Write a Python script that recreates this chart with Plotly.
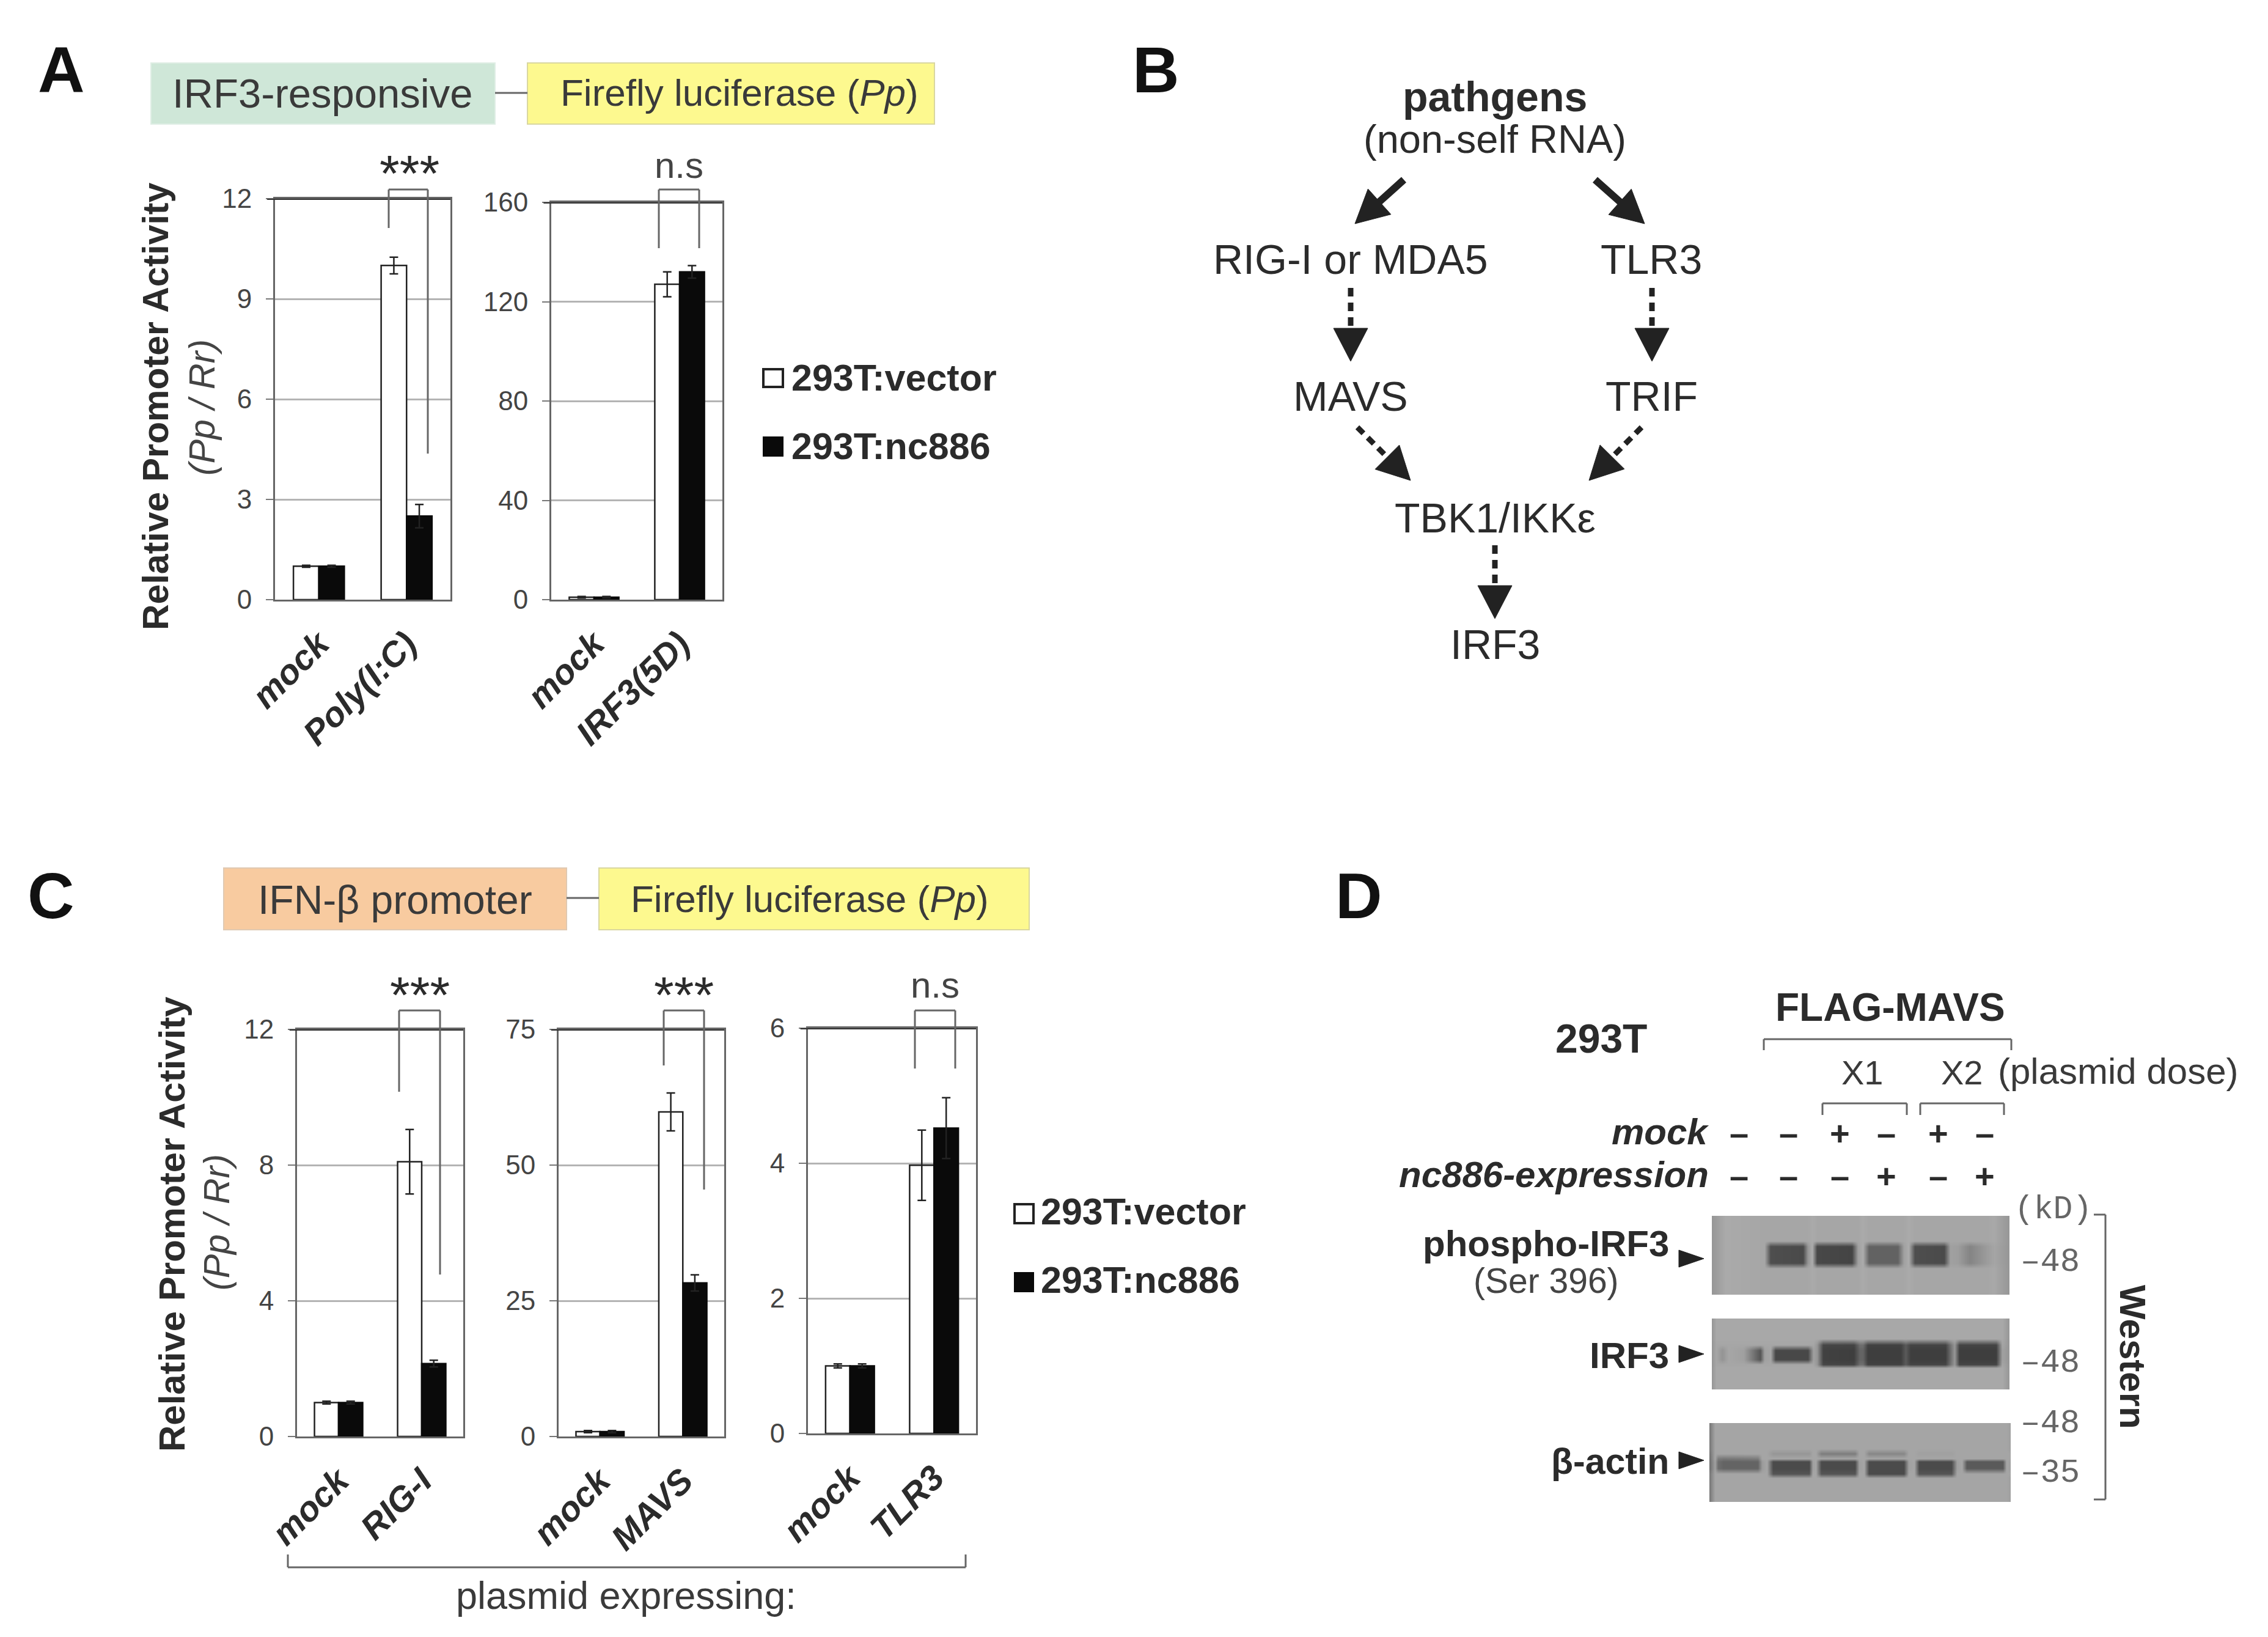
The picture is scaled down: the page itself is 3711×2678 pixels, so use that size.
import plotly.graph_objects as go

W, H = 3711, 2678
FONT = "Liberation Sans"
INK = "#2b2b2b"

# ---------------- data ----------------
cats_A1 = ["mock", "Poly(I:C)"]
vector_A1 = [1.0, 10.0]
vector_err_A1 = [0.03, 0.25]
nc886_A1 = [1.0, 2.5]
nc886_err_A1 = [0.03, 0.35]

cats_A2 = ["mock", "IRF3(5D)"]
vector_A2 = [1.0, 127]
vector_err_A2 = [0.3, 5]
nc886_A2 = [1.0, 132]
nc886_err_A2 = [0.3, 2.5]

cats_C1 = ["mock", "RIG-I"]
vector_C1 = [1.0, 8.1]
vector_err_C1 = [0.04, 0.95]
nc886_C1 = [1.0, 2.15]
nc886_err_C1 = [0.04, 0.1]

cats_C2 = ["mock", "MAVS"]
vector_C2 = [0.9, 59.8]
vector_err_C2 = [0.2, 3.5]
nc886_C2 = [0.9, 28.3]
nc886_err_C2 = [0.2, 1.5]

cats_C3 = ["mock", "TLR3"]
vector_C3 = [1.0, 3.97]
vector_err_C3 = [0.03, 0.52]
nc886_C3 = [1.0, 4.52]
nc886_err_C3 = [0.03, 0.45]

series_names = ["293T:vector", "293T:nc886"]

# Western blot grey levels, read along each membrane
blot1_x = [33,100,290,320,480,505,525,550,720,750,775,805,945,975,1000,1030,1175,1205,1240,1300,1380,1420,1495]
blot1_y = [28,152,178,258,285,415]
blot1_bg = [150,170,166,166,166,166,170,166,166,166,170,166,166,166,170,166,166,166,166,166,166,168,150]
blot1_core = [150,170,166,78,74,150,172,72,68,160,172,98,98,160,172,78,74,160,158,132,155,165,150]

blot2_x = [33,55,85,115,190,270,290,320,345,505,530,550,580,730,760,775,800,960,985,1010,1180,1210,1225,1250,1430,1460,1495]
blot2_y = [20,120,150,178,222,245,265,370]
blot2_bg = [150,168,168,168,168,168,168,168,168,168,168,168,168,168,168,168,168,168,168,168,168,168,168,168,168,168,150]
blot2_edge = [150,166,166,166,166,166,166,166,166,166,166,150,70,68,110,110,66,66,90,68,68,125,150,68,68,165,150]
blot2_core = [150,166,148,166,160,85,160,165,72,72,160,150,65,62,100,100,62,62,90,62,62,120,150,62,62,160,150]

blot3_x = [22,50,65,90,260,280,305,335,510,530,545,570,735,755,780,805,975,1000,1025,1050,1210,1235,1260,1285,1460,1480,1500]
blot3_y = [25,150,175,198,212,245,272,295,410]
blot3_bg = [120,165,165,165,165,165,165,165,165,165,165,165,165,165,165,165,165,165,165,165,165,165,165,165,165,165,160]
blot3_upper = [115,165,165,165,165,165,165,150,150,165,165,125,125,165,165,135,135,165,165,160,160,165,165,165,165,165,165]
blot3_mid = [112,165,125,120,125,165,165,165,165,165,165,165,165,165,165,165,165,165,165,165,165,165,165,165,165,165,165]
blot3_core = [110,160,110,100,100,155,165,75,75,160,165,75,75,160,165,75,75,160,165,75,75,160,165,90,90,165,160]
blot3_low = [120,165,165,165,165,165,165,85,85,165,165,85,85,165,165,75,75,165,165,85,85,165,165,165,165,165,165]

mock_signs = ["–", "–", "+", "–", "+", "–"]
nc886_signs = ["–", "–", "–", "+", "–", "+"]
kd_labels = ["–48", "–48", "–48", "–35"]


def fx(x):
    return x / W


def fy(y):
    return 1 - y / H


fig = go.Figure()
shapes, annos = [], []
layout_axes = {}
ax_i = [0]


def next_axes():
    ax_i[0] += 1
    i = ax_i[0]
    s = "" if i == 1 else str(i)
    return "x" + s, "y" + s, "xaxis" + s, "yaxis" + s


def T(x, y, text, size, anchor="center", color=INK, angle=0, family=FONT):
    annos.append(dict(xref="paper", yref="paper", x=fx(x), y=fy(y), text=text, showarrow=False,
                      xanchor=anchor, yanchor="middle", textangle=angle,
                      font=dict(family=family, size=size, color=color)))


def L(x0, y0, x1, y1, color="#555555", width=3, dash=None):
    shapes.append(dict(type="line", xref="paper", yref="paper", x0=fx(x0), y0=fy(y0), x1=fx(x1), y1=fy(y1),
                       line=dict(color=color, width=width, dash=dash)))


def R(x0, y0, x1, y1, fill, line="rgba(0,0,0,0)", width=2):
    shapes.append(dict(type="rect", xref="paper", yref="paper", x0=fx(x0), y0=fy(y0), x1=fx(x1), y1=fy(y1),
                       fillcolor=fill, line=dict(color=line, width=width)))


def TRI(pts, fill="#222222"):
    p = " L ".join(f"{fx(a):.5f} {fy(b):.5f}" for a, b in pts)
    shapes.append(dict(type="path", xref="paper", yref="paper", path=f"M {p} Z", fillcolor=fill,
                       line=dict(color=fill, width=1)))


def ARROW(x0, y0, x1, y1, dash=None, head=56, hl=54, width=9):
    dx, dy = x1 - x0, y1 - y0
    n = (dx * dx + dy * dy) ** 0.5
    ux, uy = dx / n, dy / n
    bx, by = x1 - ux * hl, y1 - uy * hl
    L(x0, y0, bx + ux * 3, by + uy * 3, "#222222", width, dash)
    TRI([(x1, y1), (bx - uy * head / 2, by + ux * head / 2), (bx + uy * head / 2, by - ux * head / 2)])


def BRACKET(x0, x1, top, b0, b1, color="#666666"):
    L(x0, top, x1, top, color, 3)
    L(x0, top, x0, b0, color, 3)
    L(x1, top, x1, b1, color, 3)


def bar_panel(cats, v, ve, n, ne, x0, x1, y0, y1, ymax, dtick):
    xa, ya, xk, yk = next_axes()
    fig.add_trace(go.Bar(x=cats, y=v, name=series_names[0], xaxis=xa, yaxis=ya, showlegend=False,
                         marker=dict(color="white", line=dict(color="#222222", width=2.5)),
                         error_y=dict(type="data", array=ve, color="#222222", thickness=2.5, width=7)))
    fig.add_trace(go.Bar(x=cats, y=n, name=series_names[1], xaxis=xa, yaxis=ya, showlegend=False,
                         marker=dict(color="#0a0a0a", line=dict(color="#0a0a0a", width=2.5)),
                         error_y=dict(type="data", array=ne, color="#222222", thickness=2.5, width=7)))
    layout_axes[xk] = dict(domain=[fx(x0), fx(x1)], anchor=ya, type="category", automargin=False,
                           range=[-0.5, 1.5], tickangle=-45, showline=True, mirror=True,
                           linecolor="#666666", linewidth=3, showgrid=False,
                           ticks="outside", ticklen=13, tickcolor="rgba(0,0,0,0)",
                           tickfont=dict(family=FONT, size=57, color=INK, weight="bold", style="italic"))
    layout_axes[yk] = dict(domain=[fy(y1), fy(y0)], anchor=xa, range=[0, ymax], dtick=dtick, automargin=False,
                           showline=True, mirror=True, linecolor="#666666", linewidth=3, showgrid=True,
                           gridcolor="#b4b4b4", gridwidth=3, zeroline=False,
                           ticks="outside", ticklen=12, tickwidth=2, tickcolor="#777777", ticklabelstandoff=14,
                           tickfont=dict(family=FONT, size=44, color="#444444"))
    shapes.append(dict(type="line", xref=f"{xa} domain", yref=ya, x0=-0.045, x1=1, y0=ymax, y1=ymax,
                       line=dict(color="#333333", width=4)))


bar_panel(cats_A1, vector_A1, vector_err_A1, nc886_A1, nc886_err_A1, 450, 737, 325, 981, 12, 3)
bar_panel(cats_A2, vector_A2, vector_err_A2, nc886_A2, nc886_err_A2, 902, 1182, 331, 981, 160, 40)
bar_panel(cats_C1, vector_C1, vector_err_C1, nc886_C1, nc886_err_C1, 486, 758, 1684, 2350, 12, 4)
bar_panel(cats_C2, vector_C2, vector_err_C2, nc886_C2, nc886_err_C2, 914, 1185, 1684, 2350, 75, 25)
bar_panel(cats_C3, vector_C3, vector_err_C3, nc886_C3, nc886_err_C3, 1322, 1597, 1682, 2345, 6, 2)


def blot_panel(xs, ys, z, x0, x1, y0, y1):
    xa, ya, xk, yk = next_axes()
    fig.add_trace(go.Heatmap(x=xs, y=ys, z=z, xaxis=xa, yaxis=ya, zmin=0, zmax=255, zsmooth="best",
                             showscale=False, colorscale=[[0, "#000000"], [1, "#ffffff"]], hoverinfo="skip"))
    layout_axes[xk] = dict(domain=[fx(x0), fx(x1)], anchor=ya, range=[xs[0], xs[-1]], visible=False, automargin=False)
    layout_axes[yk] = dict(domain=[fy(y1), fy(y0)], anchor=xa, range=[ys[-1], ys[0]], visible=False, automargin=False)


blot_panel(blot1_x, blot1_y, [blot1_bg, blot1_bg, blot1_core, blot1_core, blot1_bg, blot1_bg], 2801, 3288, 1989, 2118)
blot_panel(blot2_x, blot2_y, [blot2_bg, blot2_bg, blot2_edge, blot2_core, blot2_core, blot2_edge, blot2_bg, blot2_bg],
           2801, 3288, 2157, 2273)
blot_panel(blot3_x, blot3_y, [blot3_bg, blot3_bg, blot3_upper, blot3_mid, blot3_core, blot3_core, blot3_low, blot3_bg, blot3_bg],
           2797, 3290, 2328, 2457)

# panel letters
T(100, 114, "<b>A</b>", 106, color="#111111")
T(1891, 114, "<b>B</b>", 106, color="#111111")
T(83, 1465, "<b>C</b>", 106, color="#111111")
T(2223, 1465, "<b>D</b>", 106, color="#111111")

# construct headers
R(247, 103, 810, 203, "#cfe7d8", "#dfeee5")
R(863, 103, 1529, 203, "#fdf98f", "#d9d7a0")
L(810, 152, 863, 152, "#666666", 3)
T(528, 153, "IRF3-responsive", 67, color="#3a3a3a")
T(1210, 151, "Firefly luciferase (<i>Pp</i>)", 62, color="#3a3a3a")
R(366, 1420, 927, 1521, "#f8cba0", "#e0c9b2")
R(980, 1420, 1684, 1521, "#fdf98f", "#d9d7a0")
L(927, 1469, 980, 1469, "#666666", 3)
T(646, 1472, "IFN-β promoter", 66, color="#3a3a3a")
T(1325, 1470, "Firefly luciferase (<i>Pp</i>)", 62, color="#3a3a3a")

# axis titles
T(255, 665, "<b>Relative Promoter Activity</b>", 59, angle=-90)
T(331, 667, "<i>(Pp / Rr)</i>", 59, angle=-90, color="#444444")
T(281, 2003, "<b>Relative Promoter Activity</b>", 60, angle=-90)
T(355, 2000, "<i>(Pp / Rr)</i>", 59, angle=-90, color="#444444")

# significance marks
BRACKET(636, 700, 310, 373, 742)
BRACKET(1078, 1144, 310, 406, 406)
BRACKET(653, 720, 1653, 1786, 2085)
BRACKET(1086, 1152, 1653, 1743, 1946)
BRACKET(1497, 1563, 1653, 1748, 1748)
T(670, 284, "***", 84)
T(1111, 270, "n.s", 60, color="#444444")
T(687, 1628, "***", 84)
T(1119, 1628, "***", 84)
T(1530, 1612, "n.s", 60, color="#444444")

# legends
R(1249, 604, 1281, 633, "white", "#222222", 4)
R(1249, 715, 1281, 746, "#0a0a0a", "#0a0a0a", 2)
T(1293, 618, "<b>" + series_names[0] + "</b>", 61, "left")
T(1293, 730, "<b>" + series_names[1] + "</b>", 61, "left")
R(1660, 1970, 1691, 2001, "white", "#222222", 4)
R(1660, 2082, 1691, 2113, "#0a0a0a", "#0a0a0a", 2)
T(1701, 1982, "<b>" + series_names[0] + "</b>", 61, "left")
T(1701, 2094, "<b>" + series_names[1] + "</b>", 61, "left")

# plasmid bracket
L(471, 2564, 1580, 2564, "#666666", 3)
L(471, 2543, 471, 2564, "#666666", 3)
L(1580, 2543, 1580, 2564, "#666666", 3)
T(1024, 2610, "plasmid expressing:", 63, color="#3a3a3a")

# panel B pathway
T(2446, 158, "<b>pathgens</b>", 68)
T(2446, 227, "(non-self RNA)", 65)
T(2210, 424, "RIG-I or MDA5", 68)
T(2702, 424, "TLR3", 68)
T(2210, 648, "MAVS", 68)
T(2702, 648, "TRIF", 68)
T(2446, 847, "TBK1/IKKε", 68)
T(2446, 1054, "IRF3", 68)
ARROW(2297, 294, 2217, 366, width=12)
ARROW(2610, 294, 2691, 366, width=12)
ARROW(2210, 471, 2210, 591, "14px,10px")
ARROW(2703, 471, 2703, 591, "14px,10px")
ARROW(2221, 699, 2308, 786, "14px,10px")
ARROW(2686, 699, 2600, 786, "14px,10px")
ARROW(2446, 892, 2446, 1012, "14px,10px")

# panel D labels
T(2620, 1699, "<b>293T</b>", 66)
T(3093, 1648, "<b>FLAG-MAVS</b>", 64)
L(2886, 1700, 3291, 1700, "#666666", 3)
L(2886, 1700, 2886, 1718, "#666666", 3)
L(3291, 1700, 3291, 1718, "#666666", 3)
T(3047, 1754, "X1", 56, color="#3a3a3a")
T(3210, 1754, "X2", 56, color="#3a3a3a")
T(3466, 1752, "(plasmid dose)", 60, color="#3a3a3a")
for a, b in [(2982, 3120), (3142, 3279)]:
    L(a, 1805, b, 1805, "#666666", 3)
    L(a, 1805, a, 1824, "#666666", 3)
    L(b, 1805, b, 1824, "#666666", 3)
T(2798, 1851, "<b><i>mock</i></b>", 60, "right")
T(2798, 1921, "<b><i>nc886-expression</i></b>", 60, "right")
for lane_x, m, n in zip([2845, 2926, 3010, 3086, 3171, 3247], mock_signs, nc886_signs):
    T(lane_x, 1853, "<b>" + m + "</b>", 56)
    T(lane_x, 1923, "<b>" + n + "</b>", 56)
T(3359, 1979, "(kD)", 53, color="#666666", family="Liberation Mono")
for yy, lab in zip([2064, 2229, 2328, 2409], kd_labels):
    T(3354, yy, lab, 54, color="#666666", family="Liberation Mono")
L(3426, 1987, 3445, 1987, "#666666", 3)
L(3445, 1987, 3445, 2453, "#666666", 3)
L(3426, 2453, 3445, 2453, "#666666", 3)
T(3490, 2220, "<b>Western</b>", 60, angle=90)
T(2733, 2034, "<b>phospho-IRF3</b>", 60, "right")
T(2530, 2095, "(Ser 396)", 57, color="#444444")
T(2733, 2217, "<b>IRF3</b>", 60, "right")
T(2733, 2391, "<b>β-actin</b>", 59, "right")
for yy in [2059, 2215, 2389]:
    TRI([(2747, yy - 14), (2788, yy), (2747, yy + 14)])

fig.update_layout(template="none", width=W, height=H, margin=dict(l=0, r=0, t=0, b=0, pad=0, autoexpand=False),
                  autosize=False, paper_bgcolor="white", plot_bgcolor="white",
                  barmode="group", bargap=0.42, bargroupgap=0,
                  shapes=shapes, annotations=annos, showlegend=False,
                  font=dict(family=FONT), **layout_axes)

fig.write_html("out.html", config={"displayModeBar": False},
               post_script="document.body.style.margin='0';")
